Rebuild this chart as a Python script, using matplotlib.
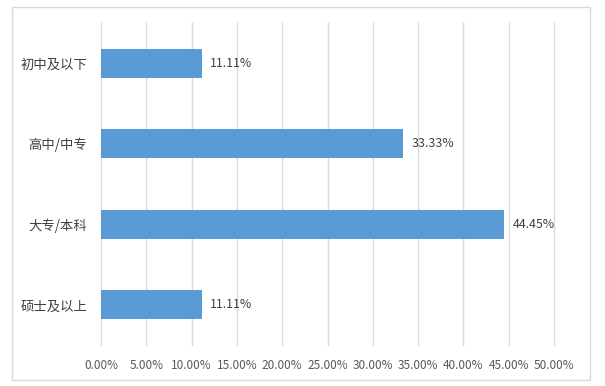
import matplotlib
matplotlib.use("Agg")
import matplotlib.pyplot as plt
from matplotlib.patches import Rectangle
from matplotlib.ticker import FuncFormatter, MultipleLocator

plt.rcParams["font.family"] = ["Noto Sans CJK SC", "DejaVu Sans"]

# data, top to bottom as in the chart
categories = ["初中及以下", "高中/中专", "大专/本科", "硕士及以上"]
shares = [11.11, 33.33, 44.45, 11.11]
labels = ["11.11%", "33.33%", "44.45%", "11.11%"]

W, H = 605, 386
fig = plt.figure(figsize=(W / 100, H / 100), dpi=100)
ax = fig.add_axes([101 / W, (H - 345) / H, (554 - 101) / W, (345 - 23) / H])

# outer chart border
fig.patches.append(Rectangle((12 / W, (H - 380) / H), (590 - 12) / W, (380 - 7) / H,
                             transform=fig.transFigure, fill=False,
                             edgecolor="#d9d9d9", linewidth=1))

y = list(range(len(categories)))
ax.barh(y, shares, height=0.36, color="#5b9bd5", zorder=3)
for yi, v, lab in zip(y, shares, labels):
    ax.text(v + 0.95, yi, lab, va="center", ha="left", fontsize=8.9, color="#404040")

ax.set_ylim(len(categories) - 0.5, -0.5)
ax.set_yticks(y)
ax.set_yticklabels(categories, fontsize=9.6, color="#404040")
ax.set_xlim(0, 50)
ax.xaxis.set_major_locator(MultipleLocator(5))
ax.xaxis.set_major_formatter(FuncFormatter(lambda v, p: f"{v:.2f}%"))
ax.tick_params(axis="x", labelsize=8.5, colors="#595959", length=0, pad=10)
ax.tick_params(axis="y", length=0, pad=10)
ax.grid(axis="x", color="#d9d9d9", linewidth=1, zorder=0)
for gl in ax.get_xgridlines():
    gl.set_clip_on(False)
for s in ax.spines.values():
    s.set_visible(False)

fig.savefig("out.png", dpi=100)
